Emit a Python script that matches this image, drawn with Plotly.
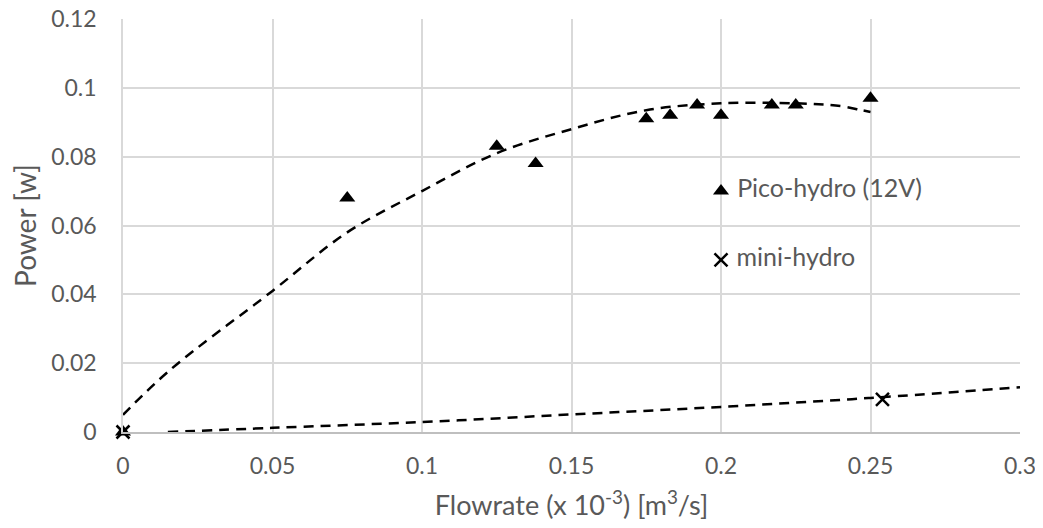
import plotly.graph_objects as go

# Measured points
pico_x = [0, 0.075, 0.125, 0.138, 0.175, 0.183, 0.192, 0.2, 0.217, 0.225, 0.25]
pico_y = [0, 0.068, 0.083, 0.078, 0.091, 0.092, 0.095, 0.092, 0.095, 0.095, 0.097]
mini_x = [0, 0.254]
mini_y = [0, 0.0095]

# Trendlines
pico_trend_x = [0, 0.0157, 0.05, 0.075, 0.1, 0.125, 0.15, 0.175, 0.2, 0.225, 0.24, 0.247, 0.25]
pico_trend_y = [0.005, 0.018, 0.041, 0.058, 0.070, 0.081, 0.088, 0.0935, 0.0955, 0.0955, 0.0947, 0.0935, 0.093]
mini_trend_x = [0.015, 0.05, 0.1, 0.15, 0.2, 0.25, 0.3]
mini_trend_y = [0.0, 0.0012, 0.0029, 0.0051, 0.0073, 0.0099, 0.013]

# In-plot legend
legend_x = [0.2, 0.2]
legend_y = [0.07, 0.05]
legend_labels = ["Pico-hydro (12V)", "mini-hydro"]

x_ticks = [0, 0.05, 0.1, 0.15, 0.2, 0.25, 0.3]
y_ticks = [0, 0.02, 0.04, 0.06, 0.08, 0.1, 0.12]

FONT = "Lato, 'Open Sans', sans-serif"
GRAY = "#595959"

fig = go.Figure()
fig.add_trace(go.Scatter(x=pico_trend_x, y=pico_trend_y, mode="lines", line_shape="spline",
                         line=dict(color="black", width=2.5, dash="10px,7px"), showlegend=False))
fig.add_trace(go.Scatter(x=mini_trend_x, y=mini_trend_y, mode="lines", line_shape="spline",
                         line=dict(color="black", width=2.5, dash="10px,7px"), showlegend=False))
fig.add_trace(go.Scatter(x=pico_x, y=pico_y, mode="markers", cliponaxis=False,
                         marker=dict(symbol="triangle-up", size=14, color="black"), showlegend=False))
fig.add_trace(go.Scatter(x=mini_x, y=mini_y, mode="markers", cliponaxis=False,
                         marker=dict(symbol="x-thin", size=13, line=dict(color="black", width=2.5)),
                         showlegend=False))
fig.add_trace(go.Scatter(x=[legend_x[0]], y=[legend_y[0]], mode="markers+text",
                         marker=dict(symbol="triangle-up", size=14, color="black"),
                         text=[" " + legend_labels[0]], textposition="middle right",
                         textfont=dict(family=FONT, size=25, color=GRAY), showlegend=False))
fig.add_trace(go.Scatter(x=[legend_x[1]], y=[legend_y[1]], mode="markers+text",
                         marker=dict(symbol="x-thin", size=13, line=dict(color="black", width=2.5)),
                         text=[" " + legend_labels[1]], textposition="middle right",
                         textfont=dict(family=FONT, size=25, color=GRAY), showlegend=False))

# page body adds an 8px offset; margins compensate so the plot area lands at x 123-1020, y 19-432
fig.update_layout(
    width=1043, height=528,
    margin=dict(l=115, r=31, t=11, b=104),
    paper_bgcolor="white", plot_bgcolor="white",
    font=dict(family=FONT, size=23, color=GRAY),
    xaxis=dict(range=[0, 0.3], tickvals=x_ticks, showgrid=True, gridcolor="#d9d9d9", gridwidth=1.5,
               showline=True, linecolor="#bfbfbf", linewidth=1.5, mirror=False, zeroline=False,
               ticks="outside", ticklen=13, tickcolor="rgba(0,0,0,0)", automargin=False,
               ticklabeloverflow="allow",
               title=dict(text="Flowrate (x 10<sup>-3</sup>) [m<sup>3</sup>/s]", font=dict(size=27, color=GRAY),
                          standoff=18)),
    yaxis=dict(range=[0, 0.12], tickvals=y_ticks, showgrid=True, gridcolor="#d9d9d9", gridwidth=1.5,
               showline=True, linecolor="#d9d9d9", linewidth=1.5, zeroline=False,
               ticks="outside", ticklen=20, tickcolor="rgba(0,0,0,0)", automargin=False,
               ticklabeloverflow="allow",
               title=dict(text="Power [w]", font=dict(size=28, color=GRAY), standoff=12)),
)
fig.write_html("out.html")
